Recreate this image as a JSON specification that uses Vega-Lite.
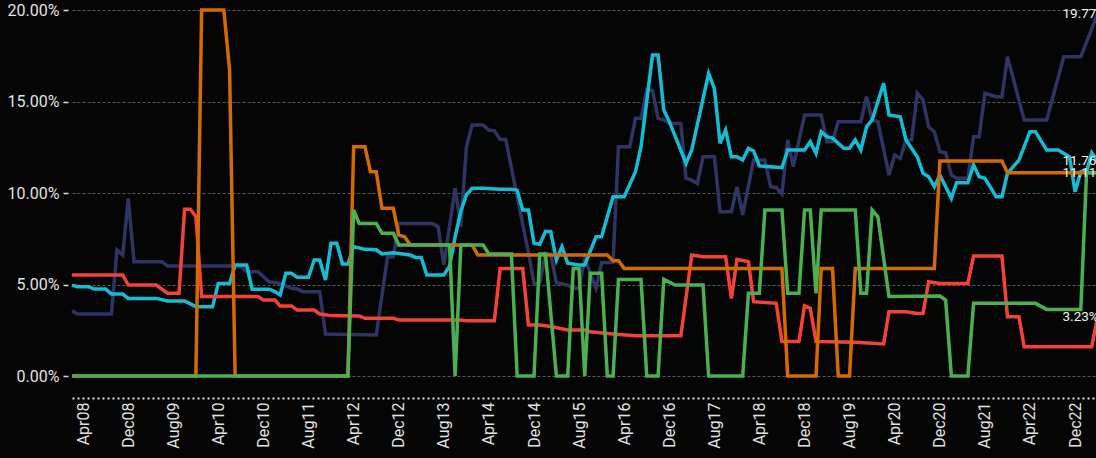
{
  "$schema": "https://vega.github.io/schema/vega-lite/v6.json",
  "width": 1024,
  "height": 366,
  "autosize": "none",
  "padding": {"left": 72, "top": 10, "right": 0, "bottom": 82},
  "background": "#050505",
  "config": {"view": {"stroke": null}, "font": "Roboto"},
  "datasets": {
    "series": [
      {"s":"s1","d":"2008-02-01","v":3.57},{"s":"s1","d":"2008-03-01","v":3.39},{"s":"s1","d":"2008-09-01","v":3.39},{"s":"s1","d":"2008-10-01","v":6.89},{"s":"s1","d":"2008-11-01","v":6.61},{"s":"s1","d":"2008-12-01","v":9.71},{"s":"s1","d":"2009-01-01","v":6.25},{"s":"s1","d":"2009-06-01","v":6.25},{"s":"s1","d":"2009-07-01","v":6.01},{"s":"s1","d":"2010-08-01","v":6.01},{"s":"s1","d":"2010-09-01","v":5.7},{"s":"s1","d":"2010-11-01","v":5.7},{"s":"s1","d":"2011-01-01","v":5.15},{"s":"s1","d":"2011-03-01","v":5.06},{"s":"s1","d":"2011-05-01","v":4.79},{"s":"s1","d":"2011-06-01","v":4.75},{"s":"s1","d":"2011-07-01","v":4.61},{"s":"s1","d":"2011-10-01","v":4.61},{"s":"s1","d":"2011-11-01","v":2.3},{"s":"s1","d":"2012-08-01","v":2.24},{"s":"s1","d":"2012-10-01","v":6.52},{"s":"s1","d":"2012-11-01","v":6.52},{"s":"s1","d":"2012-12-01","v":8.34},{"s":"s1","d":"2013-06-01","v":8.34},{"s":"s1","d":"2013-07-01","v":8.16},{"s":"s1","d":"2013-08-01","v":6.07},{"s":"s1","d":"2013-10-01","v":10.26},{"s":"s1","d":"2013-11-01","v":8.16},{"s":"s1","d":"2013-12-01","v":12.53},{"s":"s1","d":"2014-01-01","v":13.72},{"s":"s1","d":"2014-03-01","v":13.72},{"s":"s1","d":"2014-04-01","v":13.44},{"s":"s1","d":"2014-05-01","v":13.4},{"s":"s1","d":"2014-06-01","v":12.93},{"s":"s1","d":"2014-07-01","v":12.93},{"s":"s1","d":"2014-11-01","v":6.75},{"s":"s1","d":"2014-12-01","v":5.06},{"s":"s1","d":"2015-01-01","v":5.06},{"s":"s1","d":"2015-02-01","v":6.7},{"s":"s1","d":"2015-03-01","v":6.65},{"s":"s1","d":"2015-04-01","v":5.1},{"s":"s1","d":"2015-06-01","v":4.97},{"s":"s1","d":"2015-07-01","v":4.79},{"s":"s1","d":"2015-08-01","v":4.79},{"s":"s1","d":"2015-09-01","v":6.43},{"s":"s1","d":"2015-11-01","v":4.79},{"s":"s1","d":"2015-12-01","v":6.2},{"s":"s1","d":"2016-02-01","v":6.2},{"s":"s1","d":"2016-03-01","v":12.53},{"s":"s1","d":"2016-05-01","v":12.53},{"s":"s1","d":"2016-06-01","v":14.08},{"s":"s1","d":"2016-07-01","v":14.08},{"s":"s1","d":"2016-08-01","v":15.67},{"s":"s1","d":"2016-09-01","v":15.6},{"s":"s1","d":"2016-10-01","v":14.08},{"s":"s1","d":"2016-11-01","v":14.0},{"s":"s1","d":"2016-12-01","v":13.8},{"s":"s1","d":"2017-02-01","v":13.8},{"s":"s1","d":"2017-03-01","v":10.8},{"s":"s1","d":"2017-04-01","v":10.7},{"s":"s1","d":"2017-05-01","v":10.52},{"s":"s1","d":"2017-06-01","v":11.98},{"s":"s1","d":"2017-08-01","v":11.98},{"s":"s1","d":"2017-09-01","v":8.98},{"s":"s1","d":"2017-11-01","v":8.98},{"s":"s1","d":"2017-12-01","v":10.34},{"s":"s1","d":"2018-01-01","v":8.8},{"s":"s1","d":"2018-03-01","v":11.8},{"s":"s1","d":"2018-05-01","v":11.8},{"s":"s1","d":"2018-06-01","v":10.34},{"s":"s1","d":"2018-07-01","v":10.3},{"s":"s1","d":"2018-08-01","v":9.95},{"s":"s1","d":"2018-09-01","v":12.9},{"s":"s1","d":"2018-10-01","v":11.44},{"s":"s1","d":"2018-12-01","v":14.26},{"s":"s1","d":"2019-03-01","v":14.26},{"s":"s1","d":"2019-04-01","v":12.8},{"s":"s1","d":"2019-05-01","v":12.8},{"s":"s1","d":"2019-06-01","v":13.9},{"s":"s1","d":"2019-10-01","v":13.9},{"s":"s1","d":"2019-11-01","v":15.26},{"s":"s1","d":"2019-12-01","v":13.99},{"s":"s1","d":"2020-01-01","v":13.9},{"s":"s1","d":"2020-03-01","v":10.98},{"s":"s1","d":"2020-04-01","v":12.08},{"s":"s1","d":"2020-05-01","v":11.89},{"s":"s1","d":"2020-06-01","v":12.9},{"s":"s1","d":"2020-07-01","v":12.9},{"s":"s1","d":"2020-08-01","v":15.45},{"s":"s1","d":"2020-09-01","v":15.08},{"s":"s1","d":"2020-10-01","v":13.62},{"s":"s1","d":"2020-11-01","v":13.35},{"s":"s1","d":"2020-12-01","v":12.26},{"s":"s1","d":"2021-01-01","v":12.2},{"s":"s1","d":"2021-02-01","v":10.98},{"s":"s1","d":"2021-03-01","v":10.8},{"s":"s1","d":"2021-05-01","v":10.8},{"s":"s1","d":"2021-06-01","v":13.08},{"s":"s1","d":"2021-07-01","v":13.08},{"s":"s1","d":"2021-08-01","v":15.45},{"s":"s1","d":"2021-10-01","v":15.26},{"s":"s1","d":"2021-11-01","v":15.26},{"s":"s1","d":"2021-12-01","v":17.45},{"s":"s1","d":"2022-03-01","v":13.99},{"s":"s1","d":"2022-07-01","v":13.99},{"s":"s1","d":"2022-10-01","v":17.45},{"s":"s1","d":"2023-01-01","v":17.45},{"s":"s1","d":"2023-04-01","v":19.77},

      {"s":"s2","d":"2008-02-01","v":4.97},{"s":"s2","d":"2008-03-01","v":4.88},{"s":"s2","d":"2008-05-01","v":4.88},{"s":"s2","d":"2008-06-01","v":4.75},{"s":"s2","d":"2008-08-01","v":4.75},{"s":"s2","d":"2008-09-01","v":4.48},{"s":"s2","d":"2008-11-01","v":4.48},{"s":"s2","d":"2008-12-01","v":4.24},{"s":"s2","d":"2009-05-01","v":4.24},{"s":"s2","d":"2009-07-01","v":4.1},{"s":"s2","d":"2009-10-01","v":4.1},{"s":"s2","d":"2009-12-01","v":3.79},{"s":"s2","d":"2010-03-01","v":3.79},{"s":"s2","d":"2010-04-01","v":5.06},{"s":"s2","d":"2010-06-01","v":5.06},{"s":"s2","d":"2010-07-01","v":6.07},{"s":"s2","d":"2010-09-01","v":6.07},{"s":"s2","d":"2010-10-01","v":4.74},{"s":"s2","d":"2011-01-01","v":4.74},{"s":"s2","d":"2011-02-01","v":4.61},{"s":"s2","d":"2011-03-01","v":4.43},{"s":"s2","d":"2011-04-01","v":5.61},{"s":"s2","d":"2011-05-01","v":5.61},{"s":"s2","d":"2011-06-01","v":5.39},{"s":"s2","d":"2011-08-01","v":5.39},{"s":"s2","d":"2011-09-01","v":6.34},{"s":"s2","d":"2011-10-01","v":6.34},{"s":"s2","d":"2011-11-01","v":5.25},{"s":"s2","d":"2011-12-01","v":7.25},{"s":"s2","d":"2012-01-01","v":7.25},{"s":"s2","d":"2012-02-01","v":6.12},{"s":"s2","d":"2012-03-01","v":6.12},{"s":"s2","d":"2012-04-01","v":7.07},{"s":"s2","d":"2012-06-01","v":6.92},{"s":"s2","d":"2012-08-01","v":6.9},{"s":"s2","d":"2012-09-01","v":6.67},{"s":"s2","d":"2012-11-01","v":6.74},{"s":"s2","d":"2013-02-01","v":6.61},{"s":"s2","d":"2013-03-01","v":6.48},{"s":"s2","d":"2013-04-01","v":6.48},{"s":"s2","d":"2013-05-01","v":5.52},{"s":"s2","d":"2013-08-01","v":5.52},{"s":"s2","d":"2013-09-01","v":6.0},{"s":"s2","d":"2013-10-01","v":7.6},{"s":"s2","d":"2013-11-01","v":9.0},{"s":"s2","d":"2013-12-01","v":9.9},{"s":"s2","d":"2014-01-01","v":10.26},{"s":"s2","d":"2014-03-01","v":10.26},{"s":"s2","d":"2014-06-01","v":10.2},{"s":"s2","d":"2014-08-01","v":10.2},{"s":"s2","d":"2014-09-01","v":10.15},{"s":"s2","d":"2014-10-01","v":9.07},{"s":"s2","d":"2014-11-01","v":9.07},{"s":"s2","d":"2014-12-01","v":7.25},{"s":"s2","d":"2015-01-01","v":7.2},{"s":"s2","d":"2015-02-01","v":7.89},{"s":"s2","d":"2015-03-01","v":7.89},{"s":"s2","d":"2015-04-01","v":6.34},{"s":"s2","d":"2015-05-01","v":7.07},{"s":"s2","d":"2015-06-01","v":6.16},{"s":"s2","d":"2015-08-01","v":6.07},{"s":"s2","d":"2015-09-01","v":6.07},{"s":"s2","d":"2015-11-01","v":7.61},{"s":"s2","d":"2015-12-01","v":7.61},{"s":"s2","d":"2016-02-01","v":9.8},{"s":"s2","d":"2016-04-01","v":9.8},{"s":"s2","d":"2016-06-01","v":11.16},{"s":"s2","d":"2016-07-01","v":12.53},{"s":"s2","d":"2016-09-01","v":17.54},{"s":"s2","d":"2016-10-01","v":17.54},{"s":"s2","d":"2016-11-01","v":14.54},{"s":"s2","d":"2016-12-01","v":13.9},{"s":"s2","d":"2017-03-01","v":11.62},{"s":"s2","d":"2017-04-01","v":12.35},{"s":"s2","d":"2017-07-01","v":16.54},{"s":"s2","d":"2017-08-01","v":15.72},{"s":"s2","d":"2017-09-01","v":12.72},{"s":"s2","d":"2017-10-01","v":13.44},{"s":"s2","d":"2017-11-01","v":11.98},{"s":"s2","d":"2017-12-01","v":11.98},{"s":"s2","d":"2018-01-01","v":11.8},{"s":"s2","d":"2018-02-01","v":12.44},{"s":"s2","d":"2018-03-01","v":12.3},{"s":"s2","d":"2018-04-01","v":11.48},{"s":"s2","d":"2018-08-01","v":11.38},{"s":"s2","d":"2018-09-01","v":12.35},{"s":"s2","d":"2018-12-01","v":12.35},{"s":"s2","d":"2019-01-01","v":12.8},{"s":"s2","d":"2019-02-01","v":12.17},{"s":"s2","d":"2019-03-01","v":13.35},{"s":"s2","d":"2019-04-01","v":13.08},{"s":"s2","d":"2019-05-01","v":13.0},{"s":"s2","d":"2019-07-01","v":12.44},{"s":"s2","d":"2019-08-01","v":12.44},{"s":"s2","d":"2019-09-01","v":12.9},{"s":"s2","d":"2019-10-01","v":12.35},{"s":"s2","d":"2019-11-01","v":13.62},{"s":"s2","d":"2019-12-01","v":13.99},{"s":"s2","d":"2020-02-01","v":16.0},{"s":"s2","d":"2020-03-01","v":14.26},{"s":"s2","d":"2020-05-01","v":14.17},{"s":"s2","d":"2020-06-01","v":12.9},{"s":"s2","d":"2020-08-01","v":11.98},{"s":"s2","d":"2020-09-01","v":11.08},{"s":"s2","d":"2020-10-01","v":10.89},{"s":"s2","d":"2020-11-01","v":10.34},{"s":"s2","d":"2020-12-01","v":10.98},{"s":"s2","d":"2021-02-01","v":9.71},{"s":"s2","d":"2021-03-01","v":10.56},{"s":"s2","d":"2021-05-01","v":10.56},{"s":"s2","d":"2021-06-01","v":11.53},{"s":"s2","d":"2021-07-01","v":10.89},{"s":"s2","d":"2021-08-01","v":10.8},{"s":"s2","d":"2021-10-01","v":9.8},{"s":"s2","d":"2021-11-01","v":9.8},{"s":"s2","d":"2021-12-01","v":11.08},{"s":"s2","d":"2022-02-01","v":11.8},{"s":"s2","d":"2022-04-01","v":13.35},{"s":"s2","d":"2022-05-01","v":13.35},{"s":"s2","d":"2022-07-01","v":12.35},{"s":"s2","d":"2022-09-01","v":12.35},{"s":"s2","d":"2022-11-01","v":11.98},{"s":"s2","d":"2022-12-01","v":10.07},{"s":"s2","d":"2023-01-01","v":11.16},{"s":"s2","d":"2023-02-01","v":11.16},{"s":"s2","d":"2023-03-01","v":12.2},{"s":"s2","d":"2023-04-01","v":11.76},

      {"s":"s3","d":"2008-02-01","v":5.52},{"s":"s3","d":"2008-11-01","v":5.52},{"s":"s3","d":"2008-12-01","v":4.97},{"s":"s3","d":"2009-05-01","v":4.97},{"s":"s3","d":"2009-07-01","v":4.52},{"s":"s3","d":"2009-09-01","v":4.52},{"s":"s3","d":"2009-10-01","v":9.11},{"s":"s3","d":"2009-11-01","v":9.11},{"s":"s3","d":"2009-12-01","v":8.71},{"s":"s3","d":"2010-01-01","v":4.34},{"s":"s3","d":"2010-11-01","v":4.34},{"s":"s3","d":"2010-12-01","v":4.15},{"s":"s3","d":"2011-02-01","v":4.15},{"s":"s3","d":"2011-03-01","v":3.83},{"s":"s3","d":"2011-05-01","v":3.83},{"s":"s3","d":"2011-06-01","v":3.6},{"s":"s3","d":"2011-09-01","v":3.6},{"s":"s3","d":"2011-10-01","v":3.39},{"s":"s3","d":"2011-12-01","v":3.3},{"s":"s3","d":"2012-05-01","v":3.28},{"s":"s3","d":"2012-06-01","v":3.15},{"s":"s3","d":"2012-11-01","v":3.15},{"s":"s3","d":"2012-12-01","v":3.06},{"s":"s3","d":"2013-11-01","v":3.06},{"s":"s3","d":"2013-12-01","v":3.02},{"s":"s3","d":"2014-05-01","v":3.02},{"s":"s3","d":"2014-06-01","v":5.88},{"s":"s3","d":"2014-10-01","v":5.88},{"s":"s3","d":"2014-11-01","v":2.79},{"s":"s3","d":"2015-01-01","v":2.79},{"s":"s3","d":"2015-03-01","v":2.7},{"s":"s3","d":"2015-06-01","v":2.51},{"s":"s3","d":"2015-09-01","v":2.51},{"s":"s3","d":"2015-10-01","v":2.42},{"s":"s3","d":"2016-02-01","v":2.3},{"s":"s3","d":"2016-06-01","v":2.2},{"s":"s3","d":"2017-02-01","v":2.2},{"s":"s3","d":"2017-04-01","v":6.61},{"s":"s3","d":"2017-06-01","v":6.52},{"s":"s3","d":"2017-10-01","v":6.52},{"s":"s3","d":"2017-11-01","v":4.24},{"s":"s3","d":"2017-12-01","v":6.37},{"s":"s3","d":"2018-02-01","v":6.25},{"s":"s3","d":"2018-03-01","v":4.06},{"s":"s3","d":"2018-07-01","v":3.97},{"s":"s3","d":"2018-08-01","v":1.88},{"s":"s3","d":"2018-11-01","v":1.88},{"s":"s3","d":"2018-12-01","v":3.84},{"s":"s3","d":"2019-01-01","v":3.7},{"s":"s3","d":"2019-02-01","v":1.88},{"s":"s3","d":"2019-09-01","v":1.85},{"s":"s3","d":"2020-02-01","v":1.75},{"s":"s3","d":"2020-03-01","v":3.51},{"s":"s3","d":"2020-06-01","v":3.51},{"s":"s3","d":"2020-08-01","v":3.42},{"s":"s3","d":"2020-09-01","v":3.42},{"s":"s3","d":"2020-10-01","v":5.15},{"s":"s3","d":"2020-12-01","v":5.06},{"s":"s3","d":"2021-05-01","v":5.06},{"s":"s3","d":"2021-06-01","v":6.56},{"s":"s3","d":"2021-11-01","v":6.56},{"s":"s3","d":"2021-12-01","v":3.24},{"s":"s3","d":"2022-02-01","v":3.24},{"s":"s3","d":"2022-03-01","v":1.6},{"s":"s3","d":"2023-03-01","v":1.6},{"s":"s3","d":"2023-04-01","v":3.23},

      {"s":"s4","d":"2008-02-01","v":0},{"s":"s4","d":"2009-12-01","v":0},{"s":"s4","d":"2010-01-01","v":20},{"s":"s4","d":"2010-05-01","v":20},{"s":"s4","d":"2010-06-01","v":16.72},{"s":"s4","d":"2010-07-01","v":0},{"s":"s4","d":"2012-03-01","v":0},{"s":"s4","d":"2012-04-01","v":12.53},{"s":"s4","d":"2012-06-01","v":12.53},{"s":"s4","d":"2012-07-01","v":11.16},{"s":"s4","d":"2012-08-01","v":11.16},{"s":"s4","d":"2012-09-01","v":9.16},{"s":"s4","d":"2012-11-01","v":9.16},{"s":"s4","d":"2012-12-01","v":7.7},{"s":"s4","d":"2013-01-01","v":7.61},{"s":"s4","d":"2013-02-01","v":7.16},{"s":"s4","d":"2014-01-01","v":7.16},{"s":"s4","d":"2014-02-01","v":6.61},{"s":"s4","d":"2016-01-01","v":6.61},{"s":"s4","d":"2016-02-01","v":6.3},{"s":"s4","d":"2016-03-01","v":6.3},{"s":"s4","d":"2016-04-01","v":5.88},{"s":"s4","d":"2018-08-01","v":5.88},{"s":"s4","d":"2018-09-01","v":0},{"s":"s4","d":"2019-02-01","v":0},{"s":"s4","d":"2019-03-01","v":5.88},{"s":"s4","d":"2019-05-01","v":5.88},{"s":"s4","d":"2019-06-01","v":0},{"s":"s4","d":"2019-08-01","v":0},{"s":"s4","d":"2019-09-01","v":5.88},{"s":"s4","d":"2020-11-01","v":5.88},{"s":"s4","d":"2020-12-01","v":11.75},{"s":"s4","d":"2021-11-01","v":11.75},{"s":"s4","d":"2021-12-01","v":11.11},{"s":"s4","d":"2023-04-01","v":11.11},

      {"s":"s5","d":"2008-02-01","v":0},{"s":"s5","d":"2012-03-01","v":0},{"s":"s5","d":"2012-04-01","v":9.07},{"s":"s5","d":"2012-05-01","v":8.34},{"s":"s5","d":"2012-08-01","v":8.34},{"s":"s5","d":"2012-09-01","v":7.8},{"s":"s5","d":"2012-11-01","v":7.8},{"s":"s5","d":"2012-12-01","v":7.16},{"s":"s5","d":"2013-09-01","v":7.16},{"s":"s5","d":"2013-10-01","v":0},{"s":"s5","d":"2013-11-01","v":7.16},{"s":"s5","d":"2014-03-01","v":7.16},{"s":"s5","d":"2014-04-01","v":6.67},{"s":"s5","d":"2014-08-01","v":6.67},{"s":"s5","d":"2014-09-01","v":0},{"s":"s5","d":"2014-12-01","v":0},{"s":"s5","d":"2015-01-01","v":6.67},{"s":"s5","d":"2015-02-01","v":6.67},{"s":"s5","d":"2015-04-01","v":0},{"s":"s5","d":"2015-06-01","v":0},{"s":"s5","d":"2015-07-01","v":5.88},{"s":"s5","d":"2015-08-01","v":5.88},{"s":"s5","d":"2015-09-01","v":0},{"s":"s5","d":"2015-10-01","v":5.61},{"s":"s5","d":"2015-12-01","v":5.61},{"s":"s5","d":"2016-01-01","v":0},{"s":"s5","d":"2016-02-01","v":0},{"s":"s5","d":"2016-03-01","v":5.28},{"s":"s5","d":"2016-07-01","v":5.28},{"s":"s5","d":"2016-08-01","v":0},{"s":"s5","d":"2016-10-01","v":0},{"s":"s5","d":"2016-11-01","v":5.28},{"s":"s5","d":"2017-01-01","v":4.97},{"s":"s5","d":"2017-06-01","v":4.97},{"s":"s5","d":"2017-07-01","v":0},{"s":"s5","d":"2018-01-01","v":0},{"s":"s5","d":"2018-02-01","v":4.52},{"s":"s5","d":"2018-04-01","v":4.52},{"s":"s5","d":"2018-05-01","v":9.07},{"s":"s5","d":"2018-08-01","v":9.07},{"s":"s5","d":"2018-09-01","v":4.52},{"s":"s5","d":"2018-11-01","v":4.52},{"s":"s5","d":"2018-12-01","v":9.07},{"s":"s5","d":"2019-01-01","v":9.07},{"s":"s5","d":"2019-02-01","v":4.52},{"s":"s5","d":"2019-03-01","v":9.07},{"s":"s5","d":"2019-09-01","v":9.07},{"s":"s5","d":"2019-10-01","v":4.52},{"s":"s5","d":"2019-11-01","v":4.52},{"s":"s5","d":"2019-12-01","v":9.07},{"s":"s5","d":"2020-01-01","v":8.7},{"s":"s5","d":"2020-03-01","v":4.35},{"s":"s5","d":"2020-12-01","v":4.37},{"s":"s5","d":"2021-01-01","v":4.15},{"s":"s5","d":"2021-02-01","v":0},{"s":"s5","d":"2021-05-01","v":0},{"s":"s5","d":"2021-06-01","v":3.97},{"s":"s5","d":"2022-05-01","v":3.97},{"s":"s5","d":"2022-07-01","v":3.64},{"s":"s5","d":"2023-01-01","v":3.64},{"s":"s5","d":"2023-02-01","v":11.11},{"s":"s5","d":"2023-04-01","v":11.11}
    ],
    "labels": [
      {"d":"2023-04-01","v":19.77,"t":"19.77%"},
      {"d":"2023-04-01","v":11.76,"t":"11.76%"},
      {"d":"2023-04-01","v":11.11,"t":"11.11%"},
      {"d":"2023-04-01","v":3.23,"t":"3.23%"}
    ]
  },
  "layer": [
    {
      "data": {"name": "series"},
      "mark": {"type": "line", "strokeWidth": 3.5},
      "encoding": {
        "x": {
          "field": "d", "type": "temporal",
          "scale": {"type": "utc", "domain": [{"year": 2008, "month": 2, "date": 1, "utc": true}, {"year": 2023, "month": 3, "date": 24, "utc": true}]},
          "axis": {
            "title": null,
            "values": [
              {"year":2008,"month":4,"date":1,"utc":true},{"year":2008,"month":12,"date":1,"utc":true},
              {"year":2009,"month":8,"date":1,"utc":true},{"year":2010,"month":4,"date":1,"utc":true},
              {"year":2010,"month":12,"date":1,"utc":true},{"year":2011,"month":8,"date":1,"utc":true},
              {"year":2012,"month":4,"date":1,"utc":true},{"year":2012,"month":12,"date":1,"utc":true},
              {"year":2013,"month":8,"date":1,"utc":true},{"year":2014,"month":4,"date":1,"utc":true},
              {"year":2014,"month":12,"date":1,"utc":true},{"year":2015,"month":8,"date":1,"utc":true},
              {"year":2016,"month":4,"date":1,"utc":true},{"year":2016,"month":12,"date":1,"utc":true},
              {"year":2017,"month":8,"date":1,"utc":true},{"year":2018,"month":4,"date":1,"utc":true},
              {"year":2018,"month":12,"date":1,"utc":true},{"year":2019,"month":8,"date":1,"utc":true},
              {"year":2020,"month":4,"date":1,"utc":true},{"year":2020,"month":12,"date":1,"utc":true},
              {"year":2021,"month":8,"date":1,"utc":true},{"year":2022,"month":4,"date":1,"utc":true},
              {"year":2022,"month":12,"date":1,"utc":true}
            ],
            "labelExpr": "utcFormat(datum.value, '%b%y')",
            "labelAngle": -90,
            "labelFont": "Roboto",
            "labelFontSize": 16,
            "labelColor": "#e2e2e2",
            "labelPadding": 4,
            "labelOverlap": false,
            "labelFlush": false,
            "labelBound": false,
            "ticks": false,
            "grid": false,
            "domainColor": "#e2e2e2",
            "domainWidth": 2,
            "domainDash": [2, 3],
            "offset": 22
          }
        },
        "y": {
          "field": "v", "type": "quantitative",
          "scale": {"domain": [0, 20], "nice": false},
          "axis": {
            "title": null,
            "values": [0, 5, 10, 15, 20],
            "labelExpr": "format(datum.value, '.2f') + '%'",
            "labelFont": "Roboto",
            "labelFontSize": 16,
            "labelColor": "#e2e2e2",
            "labelPadding": 4,
            "domain": false,
            "tickColor": "#dddddd",
            "tickSize": 5,
            "tickWidth": 1.5,
            "offset": 4,
            "grid": true,
            "gridColor": "#585858",
            "gridDash": [3, 2],
            "gridWidth": 1
          }
        },
        "color": {
          "field": "s", "type": "nominal",
          "scale": {"domain": ["s1", "s2", "s3", "s4", "s5"], "range": ["#2e3562", "#14bdd4", "#f44336", "#d46b00", "#4caf50"]},
          "legend": null
        }
      }
    },
    {
      "data": {"name": "labels"},
      "mark": {"type": "text", "align": "left", "baseline": "middle", "dx": -35, "font": "Roboto", "fontSize": 13.5, "color": "#f2f2f2"},
      "encoding": {
        "x": {"field": "d", "type": "temporal"},
        "y": {"field": "v", "type": "quantitative"},
        "text": {"field": "t"}
      }
    }
  ]
}
